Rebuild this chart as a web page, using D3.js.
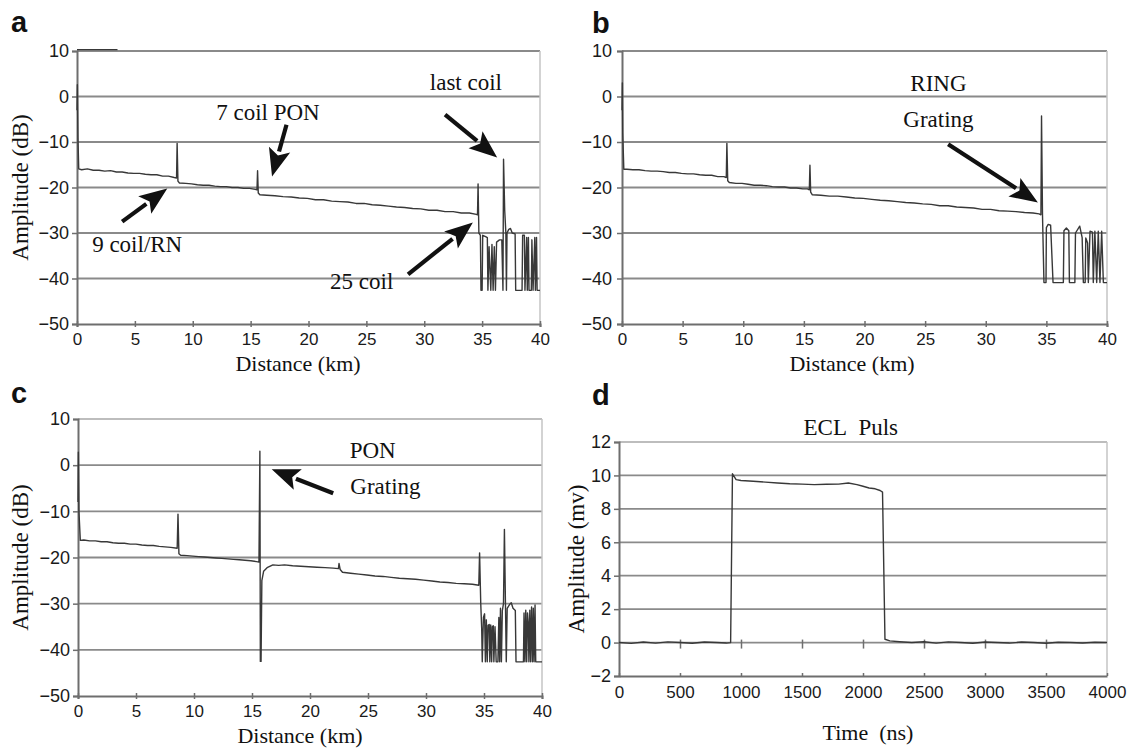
<!DOCTYPE html>
<html><head><meta charset="utf-8">
<script src="https://cdn.jsdelivr.net/npm/d3@7"></script>
<style>body{margin:0;background:#fff}svg{display:block}</style>
</head><body>
<svg id="chart" width="1128" height="751"></svg>
<script>
// ---------- tick values ----------
const distTicks = [0,5,10,15,20,25,30,35,40];
const dbTicks = [10,0,-10,-20,-30,-40,-50];
const timeTicks = [0,500,1000,1500,2000,2500,3000,3500,4000];
const mvTicks = [12,10,8,6,4,2,0,-2];

// ---------- panel a: OTDR trace (km, dB) ----------
const satA = [[0,10.3],[3.5,10.3]];
const traceA = [
[0,-3],[0.03,2.6],[0.08,-9],[0.15,-15.9],[0.4,-16.1],[0.9,-15.9],[1.4,-16.2],[1.9,-16.2],[2.4,-16.4],[2.9,-16.3],[3.4,-16.6],[3.9,-16.6],[4.4,-16.8],[4.9,-16.9],[5.4,-16.9],[5.9,-17.1],[6.4,-17.2],[6.9,-17.2],[7.4,-17.5],[7.9,-17.5],[8.4,-17.8],[8.6,-17.9],
[8.65,-10.3],[8.72,-18.6],[8.85,-19.0],[9.4,-19.1],[9.9,-19.2],[10.4,-19.4],[10.9,-19.5],[11.4,-19.5],[11.9,-19.7],[12.4,-19.8],[12.9,-19.8],[13.4,-20.0],[13.9,-20.0],[14.4,-20.2],[14.9,-20.2],[15.4,-20.4],[15.55,-20.5],
[15.6,-16.3],[15.66,-21.2],[15.8,-21.6],[16.4,-21.7],[17.1,-21.8],[17.8,-22.0],[18.5,-22.1],[19.2,-22.3],[19.9,-22.4],[20.6,-22.7],[21.3,-22.7],[22.0,-23.0],[22.7,-23.1],[23.4,-23.2],[24.1,-23.5],[24.8,-23.5],[25.5,-23.8],[26.2,-23.9],[26.9,-24.1],[27.6,-24.3],[28.3,-24.4],[29.0,-24.6],[29.7,-24.7],[30.4,-25.0],[31.1,-25.0],[31.8,-25.3],[32.5,-25.3],[33.2,-25.6],[33.9,-25.6],[34.5,-25.9],[34.6,-26.0],
[34.65,-19.2],[34.72,-30],[34.85,-30.5],[34.9,-42.6],[35.0,-42.6],[35.05,-30.5],[35.3,-30.8],[35.45,-31],[35.5,-42.6],[35.6,-33],[35.75,-42.6],[35.85,-32.5],[35.95,-42.6],[36.05,-33],[36.15,-42.6],[36.25,-32],[36.5,-31.5],[36.7,-31.5],[36.8,-42.6],
[36.85,-13.8],[36.95,-25],[37.05,-30],[37.1,-42.6],[37.15,-30],[37.3,-29.2],[37.45,-29],[37.6,-30],[37.85,-30.2],[37.9,-42.6],[38.45,-42.6],[38.5,-30.5],[38.65,-30.5],[38.7,-42.6],[38.85,-31],[38.9,-42.6],[39.0,-31],[39.05,-42.6],[39.25,-42.6],[39.3,-31.5],[39.4,-42.6],[39.55,-31],[39.6,-42.6],[39.7,-31],[39.75,-42.6],[40,-42.6]
];

// ---------- panel b ----------
const traceB = [
[0,-3],[0.03,3.0],[0.06,-8],[0.15,-16.0],[0.4,-16.0],[0.9,-16.1],[1.4,-16.1],[1.9,-16.3],[2.4,-16.4],[2.9,-16.4],[3.4,-16.5],[3.9,-16.7],[4.4,-16.7],[4.9,-16.9],[5.4,-17.0],[5.9,-17.0],[6.4,-17.2],[6.9,-17.3],[7.4,-17.3],[7.9,-17.6],[8.4,-17.6],[8.6,-17.8],
[8.65,-10.3],[8.72,-18.5],[8.85,-18.9],[9.4,-19.1],[9.9,-19.1],[10.4,-19.3],[10.9,-19.5],[11.4,-19.5],[11.9,-19.6],[12.4,-19.8],[12.9,-19.9],[13.4,-19.9],[13.9,-20.1],[14.4,-20.1],[14.9,-20.3],[15.3,-20.3],[15.45,-20.5],
[15.5,-15.1],[15.56,-21.0],[15.7,-21.6],[16.4,-21.7],[17.1,-21.9],[17.8,-21.9],[18.5,-22.1],[19.2,-22.3],[19.9,-22.4],[20.6,-22.6],[21.3,-22.8],[22.0,-22.9],[22.7,-23.1],[23.4,-23.3],[24.1,-23.4],[24.8,-23.6],[25.5,-23.7],[26.2,-24.0],[26.9,-24.0],[27.6,-24.3],[28.3,-24.4],[29.0,-24.5],[29.7,-24.8],[30.4,-24.8],[31.1,-25.1],[31.8,-25.2],[32.5,-25.3],[33.2,-25.5],[33.9,-25.6],[34.4,-25.8],[34.55,-26.0],
[34.6,-4.3],[34.68,-26],[34.8,-40.9],[34.97,-40.9],[35.0,-28.8],[35.15,-28.1],[35.35,-28.3],[35.55,-40.9],[36.4,-40.9],[36.45,-29.5],[36.65,-28.9],[36.85,-29.5],[36.9,-40.9],[37.35,-40.9],[37.4,-30],[37.75,-28.5],[37.95,-31],[38.05,-40.9],[38.2,-40.9],[38.25,-31.1],[38.4,-32.2],[38.46,-40.9],[38.6,-29.6],[38.8,-29.8],[38.87,-40.9],[39.0,-29.6],[39.15,-40.9],[39.28,-29.6],[39.42,-40.9],[39.56,-29.6],[39.7,-40.9],[40,-40.9]
];

// ---------- panel c ----------
const traceC = [
[0,-8],[0.03,2.8],[0.08,-10],[0.2,-16.3],[0.5,-16.2],[1.0,-16.4],[1.5,-16.4],[2.0,-16.6],[2.5,-16.6],[3.0,-16.8],[3.5,-16.9],[4.0,-16.9],[4.5,-17.1],[5.0,-17.1],[5.5,-17.3],[6.0,-17.4],[6.5,-17.4],[7.0,-17.6],[7.5,-17.7],[8.0,-17.8],[8.55,-18.0],
[8.62,-10.6],[8.7,-19.2],[8.85,-19.5],[9.4,-19.6],[9.9,-19.7],[10.4,-19.8],[10.9,-19.9],[11.4,-20.0],[11.9,-20.1],[12.4,-20.2],[12.9,-20.3],[13.4,-20.4],[13.9,-20.5],[14.4,-20.6],[14.9,-20.7],[15.4,-20.9],[15.6,-21.0],
[15.68,3.0],[15.72,-42.5],[15.78,-42.5],[15.85,-25],[16.0,-23],[16.3,-22.2],[16.8,-21.6],[17.3,-21.7],[17.8,-21.6],[18.5,-21.8],[19.2,-21.9],[19.9,-22.0],[20.6,-22.1],[21.3,-22.2],[22.0,-22.3],[22.45,-22.4],
[22.5,-21.3],[22.6,-22.6],[22.8,-23.2],[23.5,-23.4],[24.2,-23.6],[24.9,-23.8],[25.6,-24.0],[26.3,-24.1],[27.0,-24.3],[27.7,-24.5],[28.4,-24.6],[29.1,-24.7],[29.8,-24.9],[30.5,-25.1],[31.2,-25.3],[31.9,-25.4],[32.6,-25.6],[33.3,-25.7],[34.0,-25.8],[34.55,-26.0],
[34.62,-19.0],[34.72,-30],[34.8,-35.3],[34.85,-42.6],[34.95,-33],[35.05,-32.2],[35.12,-42.6],[35.2,-33.5],[35.28,-42.6],[35.35,-34.7],[35.45,-34.5],[35.5,-42.6],[35.58,-34.6],[35.66,-42.6],[35.72,-35],[35.8,-34.8],[35.85,-42.6],[35.95,-35],[36.05,-42.6],[36.2,-42.6],[36.28,-33],[36.35,-42.6],[36.42,-31],[36.5,-42.6],[36.58,-31.5],[36.68,-30],
[36.76,-13.9],[36.85,-30],[36.92,-42.6],[37.0,-31],[37.2,-30.2],[37.35,-29.8],[37.5,-31],[37.7,-31.5],[37.76,-42.6],[38.4,-42.6],[38.45,-32],[38.53,-42.6],[38.6,-31.4],[38.68,-42.6],[38.75,-32],[38.82,-34.3],[38.87,-42.6],[38.95,-31.4],[39.02,-42.6],[39.1,-30.7],[39.18,-42.6],[39.25,-31],[39.32,-42.6],[39.4,-30.3],[39.46,-42.6],[40,-42.6]
];

// ---------- panel d: ECL pulse (ns, mV) ----------
const pulseD = [
[0,0],[100,-0.05],[200,0.03],[300,-0.03],[400,0.04],[500,0],[600,-0.04],[700,0.03],[800,0],[880,-0.03],[915,0],
[930,10.1],[960,9.75],[1000,9.7],[1100,9.65],[1200,9.6],[1300,9.55],[1400,9.5],[1500,9.48],[1600,9.45],[1700,9.47],[1800,9.48],[1880,9.55],[1950,9.45],[2000,9.35],[2050,9.25],[2100,9.2],[2140,9.1],[2160,9.0],
[2180,0.2],[2220,0.1],[2300,0.05],[2400,0],[2500,0.05],[2600,-0.03],[2700,0.04],[2800,0],[2900,-0.04],[3000,0.03],[3100,0],[3200,-0.03],[3300,0.03],[3400,0],[3500,-0.04],[3600,0.02],[3700,0],[3800,-0.03],[3900,0.02],[4000,0]
];

// ---------- annotations (data units) ----------
const labelsA = [
  {t:"7 coil PON", x:16.5, y:-5.1},
  {t:"9 coil/RN", x:5.2, y:-34.1},
  {t:"last coil", x:33.6, y:1.5},
  {t:"25 coil", x:24.6, y:-42.4}
];
const arrowsA = [
  {x1:18.1, y1:-6.2, x2:16.85, y2:-17.6},
  {x1:3.9, y1:-27.5, x2:7.8, y2:-20.2},
  {x1:31.8, y1:-4.0, x2:36.3, y2:-13.4},
  {x1:28.6, y1:-39.1, x2:34.2, y2:-27.7}
];
const labelsB = [
  {t:"RING", x:26.1, y:1.1},
  {t:"Grating", x:26.1, y:-6.6}
];
const arrowsB = [{x1:26.9, y1:-10.5, x2:34.3, y2:-23.3}];
const labelsC = [
  {t:"PON", x:25.4, y:1.5},
  {t:"Grating", x:26.5, y:-6.3}
];
const arrowsC = [{x1:22.0, y1:-6.1, x2:16.7, y2:-0.9}];
const labelsD = [{t:"ECL\u00a0\u00a0Puls", x:1900, y:12.4}];

// ---------- drawing ----------
const svg = d3.select("#chart");
const SANS = "'Liberation Sans', Arial, sans-serif";
const SERIF = "'Liberation Serif', 'Times New Roman', serif";
const GRID = "#8a8a8a", AXIS = "#6e6e6e", LINE = "#383838";

function panel(cfg) {
  const g = svg.append("g");
  const x = d3.scaleLinear().domain(cfg.xDomain).range([cfg.left, cfg.right]);
  const y = d3.scaleLinear().domain(cfg.yDomain).range([cfg.bottom, cfg.top]);
  const fmt = d => d3.format("")(d);

  // horizontal gridlines
  g.selectAll("line.grid").data(cfg.yTicks.filter(v => v !== cfg.yDomain[0])).join("line")
    .attr("x1", cfg.left).attr("x2", cfg.right)
    .attr("y1", d => y(d)).attr("y2", d => y(d))
    .attr("stroke", d => (d === cfg.yDomain[1] && cfg.lightTop) ? "#bdbdbd" : GRID)
    .attr("stroke-width", 1.8);
  // right border
  g.append("line").attr("x1", cfg.right).attr("x2", cfg.right)
    .attr("y1", cfg.top).attr("y2", cfg.bottom).attr("stroke", "#c4c4c4").attr("stroke-width", 1.5);

  // left axis
  const ay = g.append("g").attr("transform", `translate(${cfg.left},0)`)
    .call(d3.axisLeft(y).tickValues(cfg.yTicks).tickSize(5).tickPadding(cfg.yPad).tickFormat(fmt));
  ay.select(".domain").attr("stroke", AXIS).attr("stroke-width", 2);
  ay.selectAll(".tick line").attr("stroke", AXIS).attr("stroke-width", 1.5);
  ay.selectAll("text").attr("font-family", SANS).attr("font-size", 18).attr("fill", "#1a1a1a");

  // bottom axis
  const ax = g.append("g").attr("transform", `translate(0,${cfg.bottom})`)
    .call(d3.axisBottom(x).tickValues(cfg.xTicks).tickSize(cfg.bottomTick).tickPadding(cfg.xPad).tickFormat(fmt));
  ax.select(".domain").attr("stroke", AXIS).attr("stroke-width", 2);
  ax.selectAll(".tick line").attr("stroke", AXIS).attr("stroke-width", 1.5).attr("y1", -3);
  ax.selectAll("text").attr("font-family", SANS).attr("font-size", 17).attr("fill", "#1a1a1a");

  if (cfg.zeroTicks) {
    const az = g.append("g").attr("transform", `translate(0,${y(0) + 3})`)
      .call(d3.axisBottom(x).tickValues(cfg.xTicks.slice(1, -1)).tickSize(3).tickFormat(""));
    az.select(".domain").remove();
    az.selectAll(".tick line").attr("stroke", AXIS).attr("stroke-width", 1.5).attr("y1", -6);
  }

  const line = d3.line().x(d => x(d[0])).y(d => y(d[1]));
  (cfg.series || []).forEach(s => {
    g.append("path").datum(s).attr("d", line).attr("fill", "none")
      .attr("stroke", LINE).attr("stroke-width", 1.4).attr("stroke-linejoin", "round");
  });

  // annotation text
  g.selectAll("text.ann").data(cfg.labels || []).join("text")
    .attr("x", d => x(d.x)).attr("y", d => y(d.y)).attr("text-anchor", "middle")
    .attr("font-family", SERIF).attr("font-size", 23).attr("fill", "#111").text(d => d.t);

  // arrows
  (cfg.arrows || []).forEach(a => {
    const x1 = x(a.x1), y1 = y(a.y1), x2 = x(a.x2), y2 = y(a.y2);
    const dx = x2 - x1, dy = y2 - y1, L = Math.hypot(dx, dy);
    const ux = dx / L, uy = dy / L, hl = 28, hw = 11;
    const bx = x2 - ux * hl, by = y2 - uy * hl;
    g.append("line").attr("x1", x1).attr("y1", y1).attr("x2", bx + ux * 2).attr("y2", by + uy * 2)
      .attr("stroke", "#111").attr("stroke-width", 4.2);
    g.append("path").attr("d", `M${x2},${y2}L${bx - uy * hw},${by + ux * hw}L${bx + ux * 6},${by + uy * 6}L${bx + uy * hw},${by - ux * hw}Z`)
      .attr("fill", "#111");
  });

  // axis titles
  if (cfg.yTitle) {
    g.append("text").attr("transform", `translate(${cfg.yTitleX},${(cfg.top + cfg.bottom) / 2}) rotate(-90)`)
      .attr("text-anchor", "middle").attr("font-family", SERIF).attr("font-size", 23).attr("fill", "#111")
      .text(cfg.yTitle);
  }
  g.append("text").attr("x", cfg.xTitleX).attr("y", cfg.xTitleY).attr("text-anchor", "middle")
    .attr("font-family", SERIF).attr("font-size", 22).attr("fill", "#111").text(cfg.xTitle);

  // panel letter
  g.append("text").attr("x", cfg.letterX).attr("y", cfg.letterY)
    .attr("font-family", SANS).attr("font-weight", "bold").attr("font-size", 29).attr("fill", "#111")
    .text(cfg.letter);
}

panel({letter:"a", letterX:11, letterY:32, left:77, right:540, top:51, bottom:324,
  xDomain:[0,40], yDomain:[-50,10], xTicks:distTicks, yTicks:dbTicks, bottomTick:3, xPad:6, yPad:3,
  series:[satA, traceA], labels:labelsA, arrows:arrowsA,
  yTitle:"Amplitude (dB)", yTitleX:28, xTitle:"Distance (km)", xTitleX:298, xTitleY:371});

panel({letter:"b", letterX:592, letterY:33, left:622, right:1107, top:51, bottom:324,
  xDomain:[0,40], yDomain:[-50,10], xTicks:distTicks, yTicks:dbTicks, bottomTick:3, xPad:6, yPad:5,
  series:[traceB], labels:labelsB, arrows:arrowsB,
  xTitle:"Distance (km)", xTitleX:852, xTitleY:371});

panel({letter:"c", letterX:11, letterY:403, left:78, right:542, top:419, bottom:696, lightTop:true,
  xDomain:[0,40], yDomain:[-50,10], xTicks:distTicks, yTicks:dbTicks, bottomTick:3, xPad:6, yPad:3,
  series:[traceC], labels:labelsC, arrows:arrowsC,
  yTitle:"Amplitude  (dB)", yTitleX:28, xTitle:"Distance (km)", xTitleX:300, xTitleY:743});

panel({letter:"d", letterX:592, letterY:405, left:619, right:1107, top:442, bottom:676, lightTop:true,
  xDomain:[0,4000], yDomain:[-2,12], xTicks:timeTicks, yTicks:mvTicks, bottomTick:0, xPad:10, yPad:3, zeroTicks:true,
  series:[pulseD], labels:labelsD, arrows:[],
  yTitle:"Amplitude  (mv)", yTitleX:584, xTitle:"Time\u00a0\u00a0(ns)", xTitleX:868, xTitleY:740});
</script>
</body></html>
